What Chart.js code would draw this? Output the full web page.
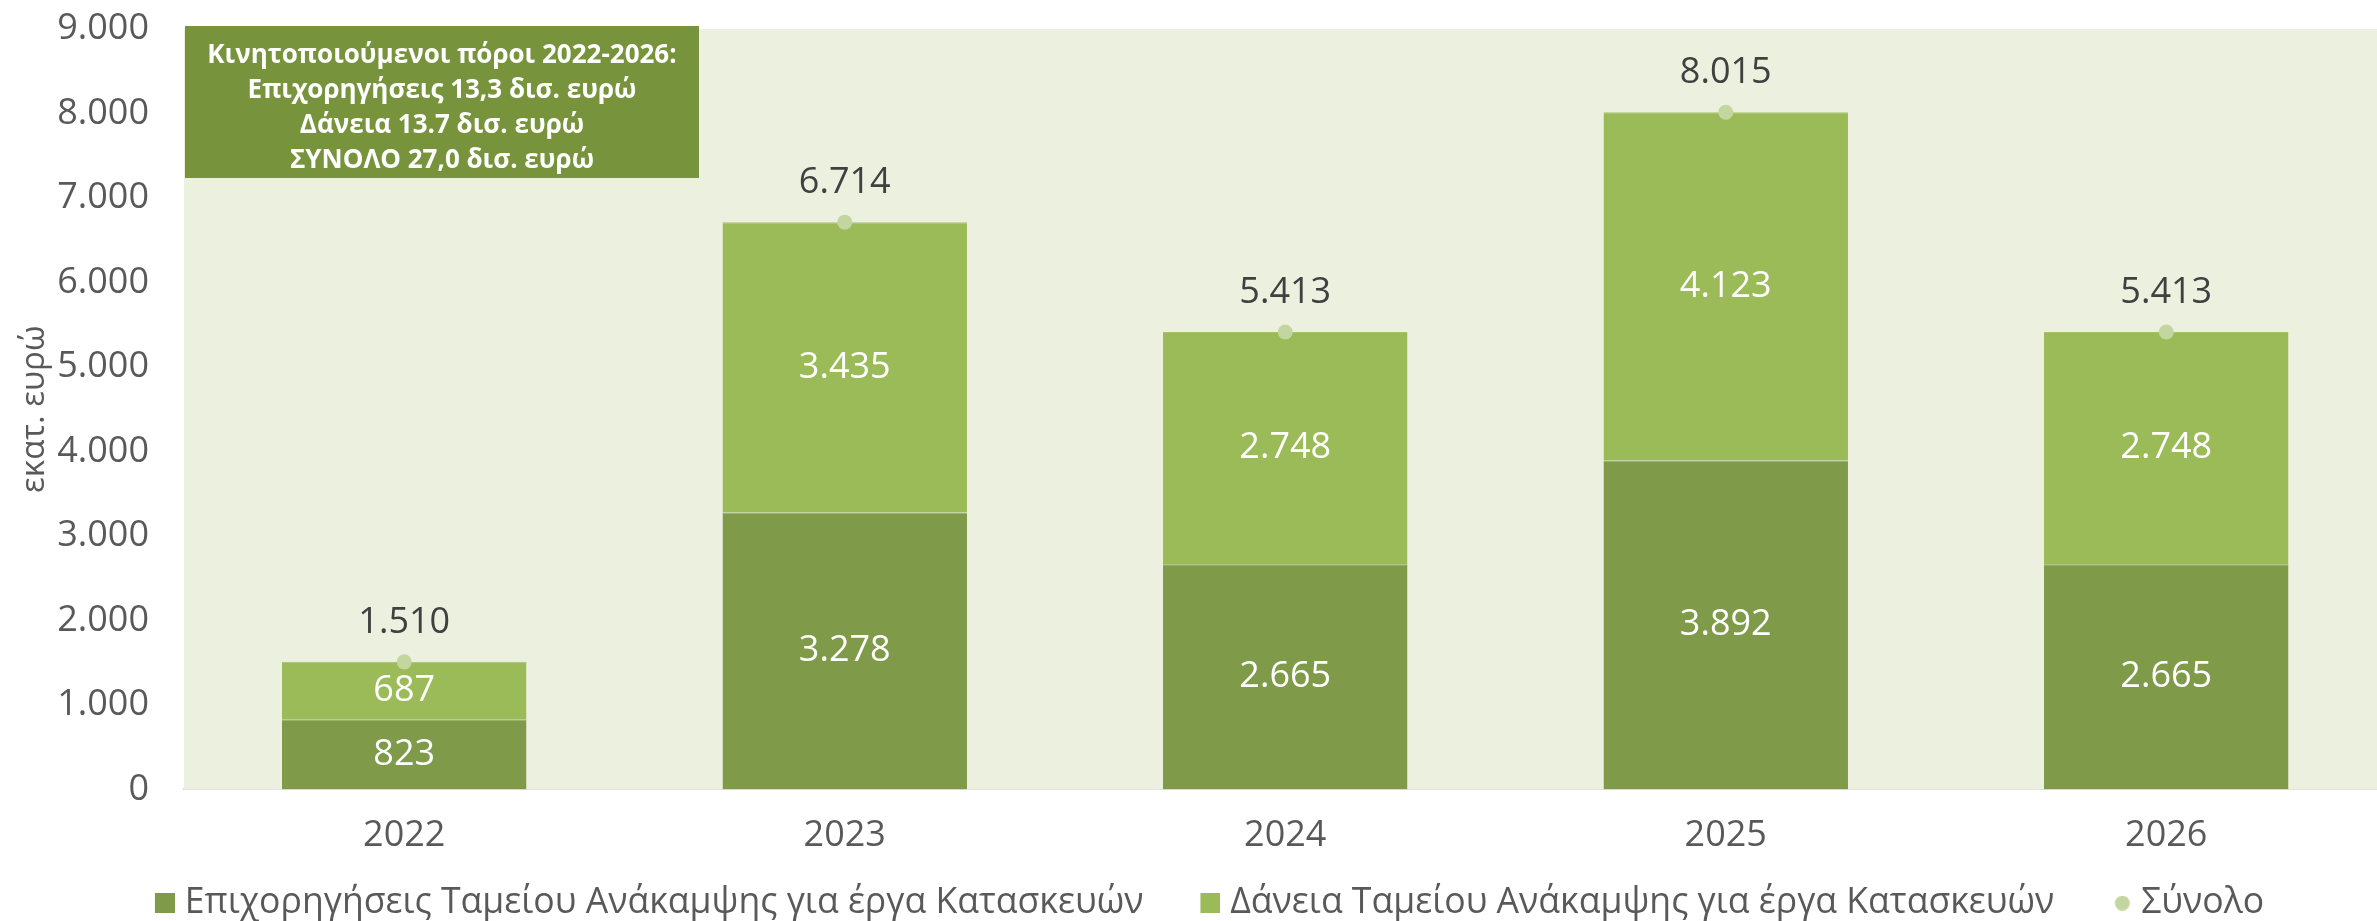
<!DOCTYPE html>
<html><head><meta charset="utf-8">
<script src="https://cdn.jsdelivr.net/npm/chart.js@4.4.1/dist/chart.umd.min.js"></script>
<style>
html,body{margin:0;padding:0;background:#fff;overflow:hidden;}
#wrap{width:2377px;height:921px;overflow:hidden;position:relative;background:#fff;}
canvas{display:block;}
</style></head><body>
<div id="wrap"><canvas id="c" width="2394" height="931"></canvas></div>
<script>
// ---- data ----
const categories = ['2022', '2023', '2024', '2025', '2026'];
const grants = [823, 3278, 2665, 3892, 2665];
const loans = [687, 3435, 2748, 4123, 2748];
const totals = [1510, 6714, 5413, 8015, 5413];
const yMin = 0, yMax = 9000, yStep = 1000;
const seriesNames = [
  'Επιχορηγήσεις Ταμείου Ανάκαμψης για έργα Κατασκευών',
  'Δάνεια Ταμείου Ανάκαμψης για έργα Κατασκευών',
  'Σύνολο'
];
const axisTitle = 'εκατ. ευρώ';
const boxLines = [
  'Κινητοποιούμενοι πόροι 2022-2026:',
  'Επιχορηγήσεις 13,3 δισ. ευρώ',
  'Δάνεια 13.7 δισ. ευρώ',
  'ΣΥΝΟΛΟ 27,0 δισ. ευρώ'
];

// ---- styles ----
const C_DARK = '#7F9A48', C_LIGHT = '#9BBB59', C_DOT = '#C4D6A0';
const C_BG = '#EBF1DE', C_BOX = '#77933C', C_TXT = '#595959', C_TOT = '#404040';
const FONT = "'Open Sans', 'DejaVu Sans', sans-serif";
const LEG_BW = 37;

function fmt(v) { return String(v).replace(/\B(?=(\d{3})+(?!\d))/g, '.'); }
// legend marker images (transparent left part provides spacing between items)
function squareImg(color) {
  const w = LEG_BW + 16, h = 20;
  const c = document.createElement('canvas'); c.width = w; c.height = h;
  const x = c.getContext('2d'); x.fillStyle = color; x.fillRect(w - 20, 0, 20, 20); return c;
}
function dotImg(color) {
  const w = LEG_BW + 16, h = 15;
  const c = document.createElement('canvas'); c.width = w; c.height = h;
  const x = c.getContext('2d'); x.fillStyle = color; x.beginPath();
  x.arc(LEG_BW + 7, 7.5, 7.5, 0, Math.PI * 2); x.fill(); return c;
}
const markers = [squareImg(C_DARK), squareImg(C_LIGHT), dotImg(C_DOT)];

Chart.defaults.font.family = FONT;

const bgPlugin = {
  id: 'bg',
  beforeDatasetsDraw(chart) {
    const {ctx, chartArea: a} = chart;
    ctx.save(); ctx.fillStyle = C_BG;
    ctx.fillRect(a.left, a.top, a.right - a.left, a.bottom - a.top);
    ctx.restore();
  }
};

const labelPlugin = {
  id: 'vals',
  afterDatasetsDraw(chart) {
    const ctx = chart.ctx;
    ctx.save();
    ctx.textAlign = 'center'; ctx.textBaseline = 'middle';
    ctx.font = '36px ' + FONT;
    [0, 1].forEach(di => {
      const meta = chart.getDatasetMeta(di);
      const vals = chart.data.datasets[di].data;
      meta.data.forEach((el, i) => {
        ctx.fillStyle = '#FFFFFF';
        ctx.fillText(fmt(vals[i]), el.x, (el.y + el.base) / 2);
      });
    });
    const m2 = chart.getDatasetMeta(2);
    m2.data.forEach((el, i) => {
      ctx.fillStyle = C_TOT;
      ctx.fillText(fmt(totals[i]), el.x, el.y - 39);
    });
    ctx.restore();
  }
};

const boxPlugin = {
  id: 'box',
  afterDraw(chart) {
    const {ctx, chartArea: a} = chart;
    const x0 = a.left + 1, y0 = a.top - 3, w = 514, h = 152;
    ctx.save();
    ctx.fillStyle = C_BOX; ctx.fillRect(x0, y0, w, h);
    ctx.fillStyle = '#FFFFFF'; ctx.textAlign = 'center'; ctx.textBaseline = 'alphabetic';
    ctx.font = 'bold 26px ' + FONT;
    boxLines.forEach((t, i) => ctx.fillText(t, x0 + w / 2, y0 + 37 + i * 35));
    ctx.restore();
  }
};

const topEdge = { top: 1, left: 0, right: 0, bottom: 0 };

new Chart(document.getElementById('c'), {
  data: {
    labels: categories,
    datasets: [
      { type: 'bar', label: seriesNames[0], data: grants, backgroundColor: C_DARK, stack: 'bars',
        barPercentage: 0.555, categoryPercentage: 1, order: 1,
        borderWidth: topEdge, borderSkipped: false, borderColor: '#8BA653' },
      { type: 'bar', label: seriesNames[1], data: loans, backgroundColor: C_LIGHT, stack: 'bars',
        barPercentage: 0.555, categoryPercentage: 1, order: 1,
        borderWidth: topEdge, borderSkipped: false, borderColor: '#A6C268' },
      { type: 'line', label: seriesNames[2], data: totals, stack: 'total', showLine: false,
        pointRadius: 7.5, pointHoverRadius: 7.5, pointBackgroundColor: C_DOT, pointBorderWidth: 0,
        borderColor: C_DOT, backgroundColor: C_DOT, order: 0 }
    ]
  },
  options: {
    responsive: false,
    animation: false,
    layout: { padding: { top: 29, right: 0, bottom: 0, left: 0 } },
    scales: {
      x: {
        stacked: true,
        grid: { display: false, drawTicks: true, tickLength: 28 },
        border: { display: true, color: '#D9D9D9', width: 2 },
        ticks: { color: C_TXT, font: { size: 36, lineHeight: 1 }, padding: 0 }
      },
      y: {
        stacked: true, min: yMin, max: yMax,
        grid: { display: false, drawTicks: true, tickLength: 28 },
        border: { display: false },
        ticks: { stepSize: yStep, color: C_TXT, font: { size: 36 }, padding: 7, callback: v => fmt(v) },
        title: { display: true, text: axisTitle, color: C_TXT, font: { size: 33 }, padding: { top: 15, bottom: 0 } },
        afterFit(s) { s.width = 184; }
      }
    },
    plugins: {
      tooltip: { enabled: false },
      legend: {
        position: 'bottom',
        labels: {
          usePointStyle: true, pointStyleWidth: LEG_BW, boxHeight: 20, padding: 32,
          color: C_TXT, font: { size: 35.6 },
          generateLabels(chart) {
            return chart.data.datasets.map((d, i) => ({
              text: d.label, datasetIndex: i, hidden: false, pointStyle: markers[i],
              fillStyle: 'rgba(0,0,0,0)', strokeStyle: 'rgba(0,0,0,0)', lineWidth: 0, fontColor: C_TXT
            }));
          }
        }
      }
    }
  },
  plugins: [bgPlugin, labelPlugin, boxPlugin]
});
</script>
</body></html>
